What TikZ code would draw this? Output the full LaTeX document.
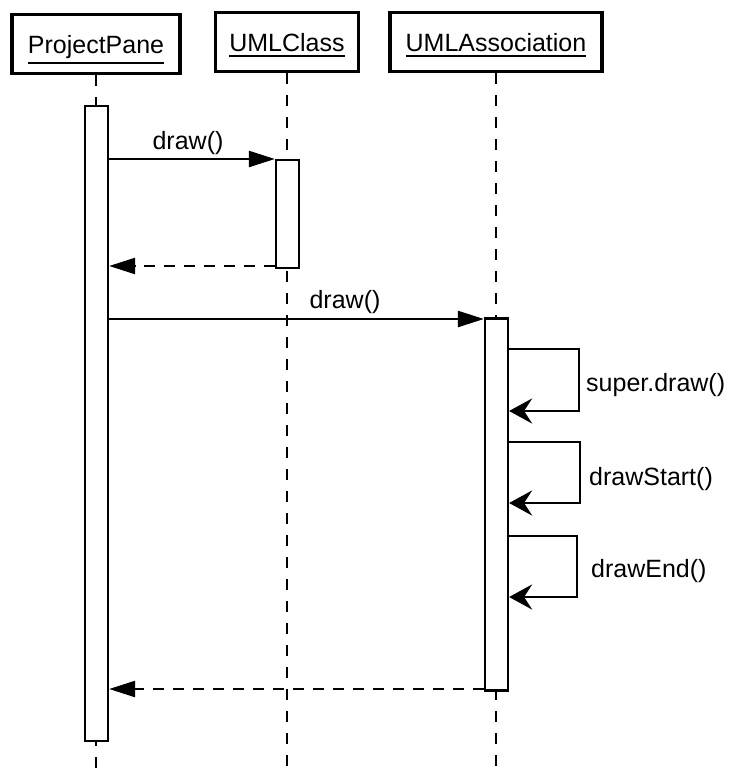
\documentclass[tikz,border=0pt]{standalone}
\usepackage{fontspec}
\setmainfont{Liberation Sans}
\usetikzlibrary{arrows.meta}
\newcommand\objul[1]{\leavevmode\vtop{\hbox{#1}\kern4pt\hrule height 1.6pt}}
\begin{document}
\begin{tikzpicture}[x=1pt,y=-1pt,
  obj/.style={draw,line width=3.2pt,minimum width=#1,minimum height=59pt,inner sep=0pt,text depth=0pt,font=\fontsize{25}{29}\selectfont},
  act/.style={draw,fill=white,line width=2.2pt,minimum width=23pt,inner sep=0pt},
  life/.style={line width=1.6pt,dash pattern=on 11pt off 11pt},
  msg/.style={line width=2.4pt,-{Triangle[length=26pt,width=16pt]}},
  ret/.style={line width=2.4pt,dash pattern=on 11pt off 9pt,-{Triangle[length=26pt,width=16pt]}},
  selfmsg/.style={line width=2.4pt,-{Stealth[length=23pt,width=25pt,inset=8pt]}},
  lbl/.style={font=\fontsize{25}{29}\selectfont,inner sep=0pt}]
\useasboundingbox (0,0) rectangle (730,772);
% objects
\node[obj=168pt] (pp) at (96,44) {\objul{ProjectPane}};
\node[obj=143pt] (uc) at (287,42) {\objul{UMLClass}};
\node[obj=212pt] (ua) at (496,42) {\objul{UMLAssociation}};
% lifelines
\draw[life] (pp.south) -- (pp.south |- 0,772);
\draw[life] (uc.south) -- (uc.south |- 0,772);
\draw[life] (ua.south) -- (ua.south |- 0,772);
% activations
\node[act,minimum height=635pt] (ppAct) at (96.5,423.5) {};
\node[act,minimum height=108pt] (ucAct) at (287.5,214) {};
\node[act,minimum height=372pt] (uaAct) at (496.5,504.5) {};
% messages
\draw[msg] (ppAct.east |- 0,159) -- (ucAct.west |- 0,159);
\node[lbl] (l1) at (188,143) {draw()};
\draw[ret] (ucAct.west |- 0,266) -- (ppAct.east |- 0,266);
\draw[msg] (ppAct.east |- 0,319) -- (uaAct.west |- 0,319);
\node[lbl] (l2) at (345,302) {draw()};
% self calls
\draw[selfmsg] (uaAct.east |- 0,349) -- (579,349) -- (579,411) -- (uaAct.east |- 0,411);
\node[lbl,anchor=west] (l3) at (586,385) {super.draw()};
\draw[selfmsg] (uaAct.east |- 0,442) -- (580,442) -- (580,503) -- (uaAct.east |- 0,503);
\node[lbl,anchor=west] (l4) at (589,479) {drawStart()};
\draw[selfmsg] (uaAct.east |- 0,536) -- (577,536) -- (577,597) -- (uaAct.east |- 0,597);
\node[lbl,anchor=west] (l5) at (591,571) {drawEnd()};
% return
\draw[ret] (uaAct.west |- 0,689) -- (ppAct.east |- 0,689);
\end{tikzpicture}
\end{document}
